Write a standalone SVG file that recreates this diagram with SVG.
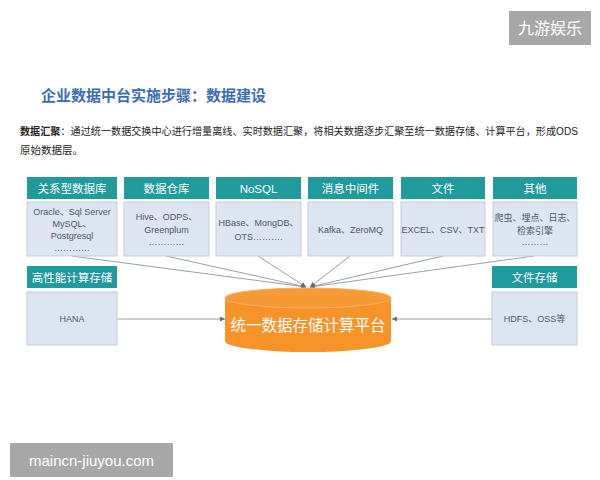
<svg xmlns="http://www.w3.org/2000/svg" width="600" height="480" viewBox="0 0 600 480">
<style>
text{font-family:"Liberation Sans","Noto Sans CJK SC",sans-serif}
.hd{fill:#1f9a9d}
.bd{fill:#dce5f1;stroke:#c3cedc;stroke-width:1}
.ht{fill:#fff;font-size:11.5px;text-anchor:middle}
.ct{fill:#4f5866;font-size:9px;text-anchor:middle}
.ln{stroke:#7b8896;stroke-width:0.8;fill:none;marker-end:url(#ah)}
.wm{fill:#a7a7a7}
</style>
<defs>
<marker id="ah" viewBox="0 0 6 6" refX="6" refY="3" markerWidth="5" markerHeight="5" orient="auto" markerUnits="userSpaceOnUse">
<path d="M0,0 L6,3 L0,6 Z" fill="#5e6c7a"/>
</marker>
</defs>
<rect width="600" height="480" fill="#fff"/>
<g id="watermark-top">
<rect class="wm" x="509" y="11" width="82" height="34"/>
<text x="550" y="34" font-size="16" fill="#fff" text-anchor="middle">九游娱乐</text>
</g>
<g id="title">
<text x="41" y="101" font-size="15" font-weight="bold" fill="#3b6db4">企业数据中台实施步骤：数据建设</text>
</g>
<g id="desc">
<text x="20" y="135" font-size="10.5" fill="#222" textLength="558" lengthAdjust="spacingAndGlyphs"><tspan font-weight="bold">数据汇聚</tspan>：通过统一数据交换中心进行增量离线、实时数据汇聚，将相关数据逐步汇聚至统一数据存储、计算平台，形成ODS</text>
<text x="20" y="154" font-size="10.5" fill="#222">原始数据层。</text>
</g>
<g id="connectors">
<line class="ln" x1="72" y1="256" x2="306" y2="287"/>
<line class="ln" x1="166" y1="256" x2="306" y2="287"/>
<line class="ln" x1="258" y1="256" x2="306" y2="287"/>
<line class="ln" x1="350" y1="256" x2="310" y2="287"/>
<line class="ln" x1="443" y1="256" x2="310" y2="287"/>
<line class="ln" x1="534" y1="256" x2="310" y2="287"/>
<line class="ln" x1="117" y1="319" x2="225" y2="319"/>
<line class="ln" x1="492" y1="319" x2="392" y2="319"/>
</g>
<g id="n-rdb">
<rect class="hd" x="27" y="177" width="90" height="22"/>
<text class="ht" x="72" y="192.5">关系型数据库</text>
<rect class="bd" x="27" y="202" width="90" height="54"/>
<text class="ct" x="72" y="215">Oracle、Sql Server</text>
<text class="ct" x="72" y="227">MySQL、</text>
<text class="ct" x="72" y="239">Postgresql</text>
<text class="ct" x="72" y="251">…………</text>
</g>
<g id="n-dw">
<rect class="hd" x="124" y="177" width="85" height="22"/>
<text class="ht" x="166.5" y="192.5">数据仓库</text>
<rect class="bd" x="124" y="202" width="85" height="54"/>
<text class="ct" x="166.5" y="220">Hive、ODPS、</text>
<text class="ct" x="166.5" y="233">Greenplum</text>
<text class="ct" x="166.5" y="245">…………</text>
</g>
<g id="n-nosql">
<rect class="hd" x="216" y="177" width="85" height="22"/>
<text class="ht" x="258.5" y="192.5">NoSQL</text>
<rect class="bd" x="216" y="202" width="85" height="54"/>
<text class="ct" x="258.5" y="226">HBase、MongDB、</text>
<text class="ct" x="258.5" y="240">OTS……….</text>
</g>
<g id="n-mq">
<rect class="hd" x="308" y="177" width="85" height="22"/>
<text class="ht" x="350.5" y="192.5">消息中间件</text>
<rect class="bd" x="308" y="202" width="85" height="54"/>
<text class="ct" x="350.5" y="233">Kafka、ZeroMQ</text>
</g>
<g id="n-file">
<rect class="hd" x="401" y="177" width="84" height="22"/>
<text class="ht" x="443" y="192.5">文件</text>
<rect class="bd" x="401" y="202" width="84" height="54"/>
<text class="ct" x="443" y="233">EXCEL、CSV、TXT</text>
</g>
<g id="n-other">
<rect class="hd" x="493" y="177" width="84" height="22"/>
<text class="ht" x="535" y="192.5">其他</text>
<rect class="bd" x="493" y="202" width="84" height="54"/>
<text class="ct" x="535" y="221">爬虫、埋点、日志、</text>
<text class="ct" x="535" y="234">检索引擎</text>
<text class="ct" x="535" y="245">………</text>
</g>
<g id="n-hpc">
<rect class="hd" x="27" y="266" width="90" height="22"/>
<text class="ht" x="72" y="281.5">高性能计算存储</text>
<rect class="bd" x="27" y="292" width="90" height="53"/>
<text class="ct" x="72" y="322">HANA</text>
</g>
<g id="n-fs">
<rect class="hd" x="492" y="266" width="85" height="22"/>
<text class="ht" x="534.5" y="281.5">文件存储</text>
<rect class="bd" x="492" y="292" width="85" height="53"/>
<text class="ct" x="534.5" y="322">HDFS、OSS等</text>
</g>
<g id="n-platform">
<path d="M225,298 L225,341 A83,11 0 0 0 391,341 L391,298 Z" fill="#f6942a"/>
<ellipse cx="308" cy="298" rx="83" ry="10" fill="#f59a35" stroke="#f8ad5c" stroke-width="1"/>
<text x="308" y="331" font-size="15.5" fill="#fff" text-anchor="middle">统一数据存储计算平台</text>
</g>
<g id="watermark-bottom">
<rect class="wm" x="10" y="443" width="163" height="34"/>
<text x="91.5" y="466" font-size="15" fill="#fff" text-anchor="middle">maincn-jiuyou.com</text>
</g>
</svg>
